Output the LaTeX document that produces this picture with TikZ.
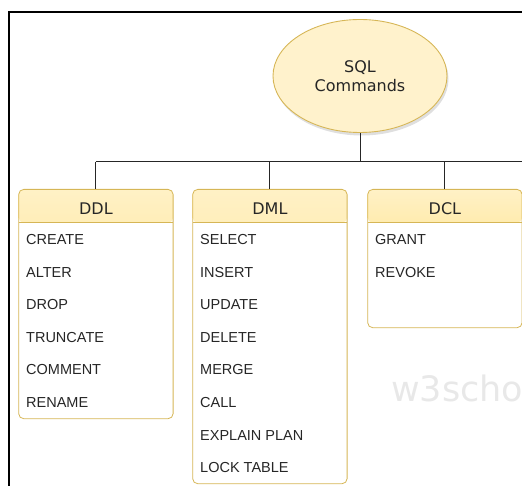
\documentclass[tikz,border=0pt]{standalone}
\usepackage{fontspec}
\setmainfont{DejaVu Sans}
\newfontfamily\itemfont{Liberation Sans}
\usepackage{xcolor}
\usepackage{tikz}
\usetikzlibrary{shapes.geometric, shadows, calc}

\definecolor{goldline}{HTML}{D6B656}
\definecolor{cream}{HTML}{FFF2CC}
\definecolor{headtop}{HTML}{FFF1C6}
\definecolor{headbot}{HTML}{FFD966}
\definecolor{ink}{HTML}{262626}
\definecolor{mark}{HTML}{E8E8E8}

\begin{document}
\begin{tikzpicture}[x=1pt, y=-1pt,
    every node/.style={align=center, text=ink},
    root/.style={ellipse, draw=goldline, fill=cream, line width=0.9pt,
                 minimum width=174pt, minimum height=113pt, inner sep=0pt,
                 font=\fontsize{16}{19.3}\selectfont,
                 drop shadow={opacity=0.25, shadow xshift=1.5pt, shadow yshift=-3pt}},
    tbl/.style={draw=goldline, line width=0.8pt, rounded corners=5pt, fill=white,
                anchor=north west, minimum width=154.4pt, inner sep=0pt,
                path picture={
                  \shade[top color=headtop, bottom color=headbot]
                    (path picture bounding box.north west) rectangle
                    ([yshift=-33.3pt]path picture bounding box.north east);
                  \draw[goldline, line width=0.8pt]
                    ([yshift=-33.3pt]path picture bounding box.north west) --
                    ([yshift=-33.3pt]path picture bounding box.north east);}},
    head/.style={anchor=base, font=\fontsize{16}{19}\selectfont},
    item/.style={anchor=base west, inner sep=0pt, font=\itemfont\fontsize{14.5}{17}\selectfont},
    wire/.style={draw=ink, line width=1pt},
    frame/.style={draw=black, line width=2pt}
]
\useasboundingbox (0,0) rectangle (522,486);

% outer frame
\draw[frame] (9,487) -- (9,12) -- (523,12);

% watermark
\node[anchor=base west, inner sep=0pt, text=mark, font=\fontsize{35}{35}\selectfont] (wm) at (391,401.5) {w3scho};

% root
\node[root] (root) at (360,76) {SQL\\Commands};

% tables
\node[tbl, minimum height=229.3pt] (ddlbox) at (18.3,189) {};
\node[tbl, minimum height=294.3pt] (dmlbox) at (192.3,189) {};
\node[tbl, minimum height=138.3pt] (dclbox) at (367.3,189) {};

\node[head] (ddl) at ($(ddlbox.north)+(0,25.3)$) {DDL};
\node[head] (dml) at ($(dmlbox.north)+(0,25.3)$) {DML};
\node[head] (dcl) at ($(dclbox.north)+(0,25.3)$) {DCL};

\foreach \t [count=\i] in {CREATE, ALTER, DROP, TRUNCATE, COMMENT, RENAME}
  \node[item] (ddl\i) at (26,{244.5+32.6*(\i-1)}) {\t};
\foreach \t [count=\i] in {SELECT, INSERT, UPDATE, DELETE, MERGE, CALL, EXPLAIN PLAN, LOCK TABLE}
  \node[item] (dml\i) at (200,{244.5+32.6*(\i-1)}) {\t};
\foreach \t [count=\i] in {GRANT, REVOKE}
  \node[item] (dcl\i) at (375,{244.5+32.6*(\i-1)}) {\t};

% connectors
\coordinate (bus) at (360,161.7);
\coordinate (busend) at (523,161.7);
\draw[wire] (root.south) -- (bus);
\draw[wire] (ddlbox.north |- bus) -- (busend);
\draw[wire] (ddlbox.north |- bus) -- (ddlbox.north);
\draw[wire] (dmlbox.north |- bus) -- (dmlbox.north);
\draw[wire] (dclbox.north |- bus) -- (dclbox.north);
\end{tikzpicture}
\end{document}
